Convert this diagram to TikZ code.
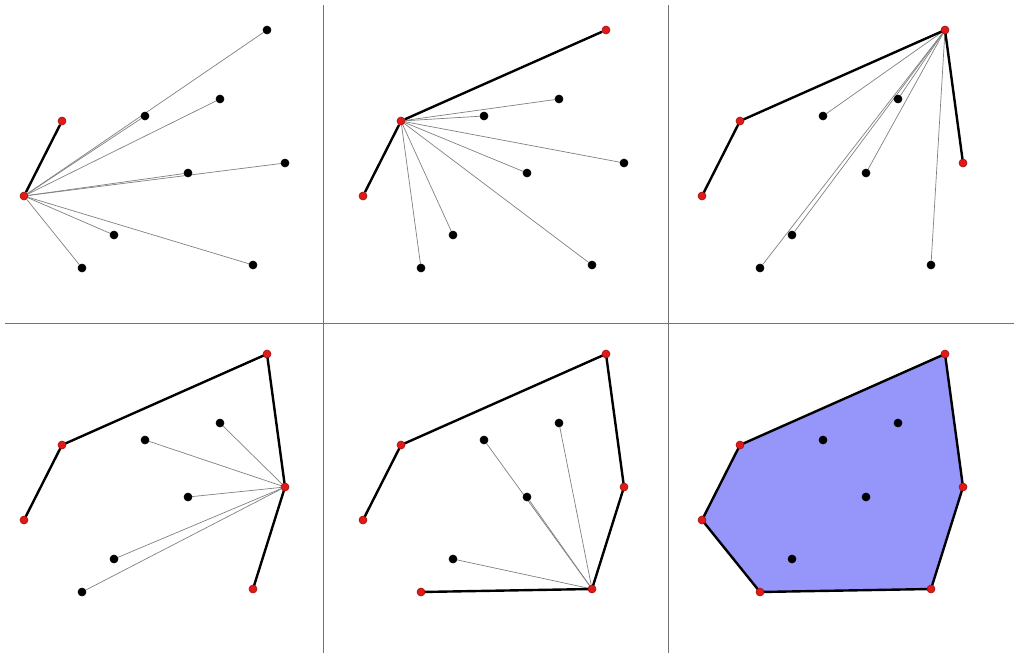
\documentclass[tikz,border=0pt]{standalone}
\usetikzlibrary{backgrounds}
\definecolor{hullred}{RGB}{225,25,25}
\definecolor{hullfill}{RGB}{150,150,250}
\tikzset{
  dot/.style={circle, inner sep=0pt, minimum size=8pt, line width=0.6pt},
  probe/.style={draw=black!50, line width=0.7pt},
  hull/.style={draw=black, line width=2.4pt, line join=round},
  divider/.style={draw=black!55, line width=1pt}
}
\begin{document}
\begin{tikzpicture}[x=1pt, y=-1pt]
    \useasboundingbox (0,0) rectangle (1014,653);
    % panel dividers
    \coordinate (v1t) at (323,5);   \coordinate (v1b) at (323,653);
    \coordinate (v2t) at (668,5);   \coordinate (v2b) at (668,653);
    \coordinate (hl) at (5,323);    \coordinate (hr) at (1014,323);
    \draw[divider] (v1t) -- (v1b) (v2t) -- (v2b) (hl) -- (hr);

    % step 1: start at the leftmost point
    \begin{scope}[shift={(0,0)}]
    \foreach \n/\x/\y/\c in {a/24/196/hullred, b/62/121/hullred, c/267/30/black, d/285/163/black,
            e/253/265/black, f/82/268/black, g/220/99/black, h/145/116/black, i/188/173/black, j/114/235/black}
        \node [dot, fill=\c, draw=\c!70!black] (\n) at (\x,\y) {};
    \begin{pgfonlayer}{background}
    \path[probe] (a) edge (c) (a) edge (d) (a) edge (e) (a) edge (f)
                 (a) edge (g) (a) edge (h) (a) edge (i) (a) edge (j);
    \path[hull] (a) edge (b);
    \end{pgfonlayer}
    \end{scope}

    % step 2
    \begin{scope}[shift={(339,0)}]
    \foreach \n/\x/\y/\c in {a/24/196/hullred, b/62/121/hullred, c/267/30/hullred, d/285/163/black,
            e/253/265/black, f/82/268/black, g/220/99/black, h/145/116/black, i/188/173/black, j/114/235/black}
        \node [dot, fill=\c, draw=\c!70!black] (\n) at (\x,\y) {};
    \begin{pgfonlayer}{background}
    \path[probe] (b) edge (d) (b) edge (e) (b) edge (f)
                 (b) edge (g) (b) edge (h) (b) edge (i) (b) edge (j);
    \draw[hull] (a) -- (b) -- (c);
    \end{pgfonlayer}
    \end{scope}

    % step 3
    \begin{scope}[shift={(678,0)}]
    \foreach \n/\x/\y/\c in {a/24/196/hullred, b/62/121/hullred, c/267/30/hullred, d/285/163/hullred,
            e/253/265/black, f/82/268/black, g/220/99/black, h/145/116/black, i/188/173/black, j/114/235/black}
        \node [dot, fill=\c, draw=\c!70!black] (\n) at (\x,\y) {};
    \begin{pgfonlayer}{background}
    \path[probe] (c) edge (e) (c) edge (f)
                 (c) edge (g) (c) edge (h) (c) edge (i) (c) edge (j);
    \draw[hull] (a.center) -- (b.center) -- (c.center) -- (d.center);
    \end{pgfonlayer}
    \end{scope}

    % step 4
    \begin{scope}[shift={(0,324)}]
    \foreach \n/\x/\y/\c in {a/24/196/hullred, b/62/121/hullred, c/267/30/hullred, d/285/163/hullred,
            e/253/265/hullred, f/82/268/black, g/220/99/black, h/145/116/black, i/188/173/black, j/114/235/black}
        \node [dot, fill=\c, draw=\c!70!black] (\n) at (\x,\y) {};
    \begin{pgfonlayer}{background}
    \path[probe] (d) edge (f) (d) edge (g) (d) edge (h) (d) edge (i) (d) edge (j);
    \draw[hull] (a.center) -- (b.center) -- (c.center) -- (d.center) -- (e.center);
    \end{pgfonlayer}
    \end{scope}

    % step 5
    \begin{scope}[shift={(339,324)}]
    \foreach \n/\x/\y/\c in {a/24/196/hullred, b/62/121/hullred, c/267/30/hullred, d/285/163/hullred,
            e/253/265/hullred, f/82/268/hullred, g/220/99/black, h/145/116/black, i/188/173/black, j/114/235/black}
        \node [dot, fill=\c, draw=\c!70!black] (\n) at (\x,\y) {};
    \begin{pgfonlayer}{background}
    \path[probe] (e) edge (g) (e) edge (h) (e) edge (i) (e) edge (j);
    \draw[hull] (a.center) -- (b.center) -- (c.center) -- (d.center) -- (e.center) -- (f.center);
    \end{pgfonlayer}
    \end{scope}

    % result: the convex hull
    \begin{scope}[shift={(678,324)}]
    \foreach \n/\x/\y/\c in {a/24/196/hullred, b/62/121/hullred, c/267/30/hullred, d/285/163/hullred,
            e/253/265/hullred, f/82/268/hullred, g/220/99/black, h/145/116/black, i/188/173/black, j/114/235/black}
        \node [dot, fill=\c, draw=\c!70!black] (\n) at (\x,\y) {};
    \begin{pgfonlayer}{background}
    \draw[hull, fill=hullfill] (a.center) -- (b.center) -- (c.center) -- (d.center)
                               -- (e.center) -- (f.center) -- cycle;
    \end{pgfonlayer}
    \end{scope}
\end{tikzpicture}
\end{document}
